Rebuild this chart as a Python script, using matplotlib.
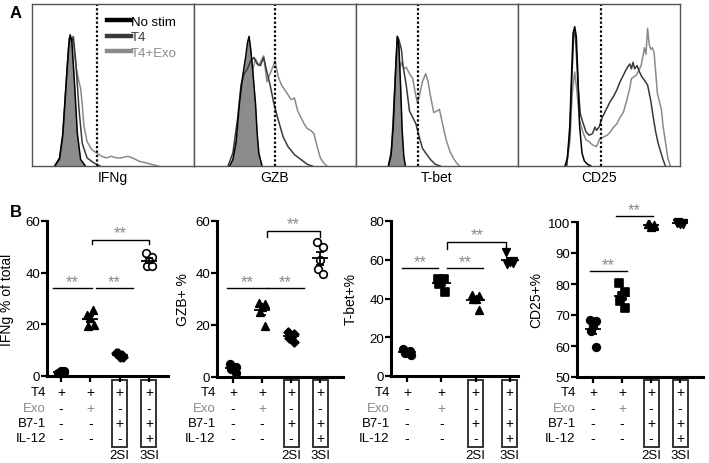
import numpy as np
import matplotlib
matplotlib.use('Agg')
import matplotlib.pyplot as plt
from matplotlib.lines import Line2D
from matplotlib.patches import Rectangle
from matplotlib import transforms

plt.rcParams['font.family'] = ['Liberation Sans', 'DejaVu Sans']

# ---------------- panel A: histograms (x, y in % of panel) ----------------
markers_a = ['IFNg', 'GZB', 'T-bet', 'CD25']
gates = [40, 50, 38, 51]

ifng_nostim_x = [14, 17, 19, 21, 22.5, 23.5, 24.5, 26, 28, 30, 33]
ifng_nostim_y = [0, 5, 20, 50, 72, 81, 78, 55, 20, 4, 0]
ifng_t4_x = [14, 17, 19, 21, 23, 24.5, 25.5, 27, 29, 31, 34, 38, 42]
ifng_t4_y = [0, 4, 18, 50, 79, 77, 80, 65, 35, 14, 5, 2, 0]
ifng_exo_x = [15, 18, 20, 22, 24, 25.5, 27, 29, 30, 31, 32, 34, 37, 40, 43, 46, 49, 52, 55, 59, 62, 66, 70, 74, 78]
ifng_exo_y = [0, 6, 25, 60, 78, 76, 62, 52, 48, 38, 25, 15, 10, 8, 6, 5, 6, 5, 5, 6, 5, 3, 2, 1, 0]

gzb_nostim_x = [22, 24, 26, 28, 30, 32, 33, 34, 35, 36, 37, 38, 39, 40, 42]
gzb_nostim_y = [0, 4, 15, 38, 55, 68, 76, 80, 72, 62, 50, 38, 20, 8, 0]
gzb_t4_x = [21, 24, 27, 29, 31, 33, 35, 37, 39, 41, 43, 45, 47, 49, 51, 53, 55, 58, 62, 66, 70, 73]
gzb_t4_y = [0, 8, 30, 50, 57, 60, 65, 67, 63, 62, 67, 58, 50, 40, 32, 25, 18, 12, 7, 4, 1, 0]
gzb_exo_x = [22, 25, 28, 31, 34, 36, 38, 40, 42, 43, 45, 47, 49, 50, 52, 54, 56, 58, 60, 62, 64, 66, 68, 70, 72, 74, 76, 78, 80, 82]
gzb_exo_y = [0, 5, 25, 40, 52, 58, 66, 62, 66, 68, 52, 57, 62, 65, 55, 50, 47, 44, 41, 42, 34, 30, 26, 23, 22, 20, 12, 5, 2, 0]

tbet_nostim_x = [20, 21.5, 23, 24.5, 25.5, 26.5, 27.5, 28.5, 29.5, 30.5]
tbet_nostim_y = [0, 6, 25, 60, 80, 74, 50, 22, 6, 0]
tbet_t4_x = [20, 22, 24, 25.5, 26.5, 28, 29, 31, 33, 35, 37, 39, 41, 43, 46, 49, 52]
tbet_t4_y = [0, 10, 50, 80, 78, 72, 62, 50, 34, 30, 26, 18, 11, 8, 4, 1, 0]
tbet_exo_x = [20, 22, 24, 25.5, 27, 28, 29.5, 31, 33, 35, 37, 38, 39.5, 41, 43, 44.5, 46, 48, 50, 51.5, 53, 54.5, 56, 58, 60, 62, 64]
tbet_exo_y = [0, 8, 35, 58, 60, 64, 60, 61, 57, 54, 43, 39, 45, 52, 57, 52, 43, 33, 34, 35, 28, 21, 15, 9, 5, 2, 0]

cd25_nostim_x = [29, 30.5, 32, 33, 34, 35, 36, 37, 38, 39.5, 41, 43, 45]
cd25_nostim_y = [0, 5, 25, 55, 82, 86, 80, 55, 25, 8, 3, 1, 0]
cd25_t4_x = [30, 32, 33.5, 34.5, 35.5, 37, 38.5, 40, 42, 44, 46, 47.5, 48.5, 50, 52, 55, 57, 59, 61, 63, 65, 67, 69, 70,
             71, 72, 73.5, 75, 76.5, 78, 80, 82, 83.5, 85, 86.5, 88, 89.5, 91]
cd25_t4_y = [0, 20, 60, 83, 80, 50, 32, 27, 21, 19, 20, 24, 22, 24, 30, 36, 40, 43, 47, 52, 56, 60, 63, 60,
             64, 60, 62, 58, 55, 53, 50, 40, 30, 21, 14, 9, 4, 0]
cd25_exo_x = [30, 32, 33.5, 35, 36.5, 38, 40, 42, 44, 46, 48.5, 50.5, 53, 55, 57, 59, 61, 63, 65, 67, 69, 70, 71.5, 73,
              75, 76, 77, 78, 79, 80, 81, 82, 83, 84, 85, 86, 87.5, 88.5, 89.5, 91, 92.5, 94]
cd25_exo_y = [0, 15, 45, 58, 45, 28, 21, 16, 15, 13, 12, 17, 18, 19, 21, 24, 26, 30, 33, 40, 48, 54, 55, 56,
              60, 62, 67, 73, 69, 85, 75, 72, 73, 70, 58, 45, 39, 35, 25, 15, 5, 0]

hists = [
    [(ifng_nostim_x, ifng_nostim_y), (ifng_t4_x, ifng_t4_y), (ifng_exo_x, ifng_exo_y)],
    [(gzb_nostim_x, gzb_nostim_y), (gzb_t4_x, gzb_t4_y), (gzb_exo_x, gzb_exo_y)],
    [(tbet_nostim_x, tbet_nostim_y), (tbet_t4_x, tbet_t4_y), (tbet_exo_x, tbet_exo_y)],
    [(cd25_nostim_x, cd25_nostim_y), (cd25_t4_x, cd25_t4_y), (cd25_exo_x, cd25_exo_y)],
]
filled = [True, True, True, False]

# ---------------- panel B: scatter data ----------------
ifng_vals = [[1.0, 1.5, 2.0, 1.2, 1.8],
             [23.5, 25.5, 22.5, 19.5, 19.8],
             [8.8, 8.0, 7.5, 9.0, 7.2],
             [47.5, 46.0, 44.5, 42.5, 42.5]]
gzb_vals = [[5.0, 4.0, 3.0, 3.0, 1.5],
            [28.5, 28.0, 27.0, 25.0, 19.5],
            [17.5, 16.5, 15.5, 15.0, 13.5],
            [52.0, 50.0, 45.0, 41.5, 39.5]]
tbet_vals = [[14.0, 13.0, 12.5, 12.0, 11.0],
             [50.0, 50.0, 48.5, 47.5, 43.5],
             [42.0, 41.5, 40.0, 39.5, 34.0],
             [64.0, 59.5, 59.0, 58.0, 58.5]]
cd25_vals = [[68.5, 68.0, 66.5, 65.0, 59.7],
             [80.3, 77.5, 76.0, 74.5, 72.3],
             [99.5, 99.0, 98.5, 99.2, 98.8],
             [99.8, 99.5, 99.3, 100.0, 99.6]]

ylabels = ['IFNg % of total', 'GZB+ %', 'T-bet+%', 'CD25+%']
row_names = ['T4', 'Exo', 'B7-1', 'IL-12']
table = [['+', '+', '+', '+'],
         ['-', '+', '-', '-'],
         ['-', '-', '+', '+'],
         ['-', '-', '-', '+']]
bottom_labels = ['', '', '2SI', '3SI']

W, H = 709, 464
fig = plt.figure(figsize=(W / 100, H / 100), dpi=100)


def px_axes(x0, ytop, w, h):
    return fig.add_axes([x0 / W, 1 - (ytop + h) / H, w / W, h / H])


# ---------------- draw panel A ----------------
col_nostim, col_t4, col_exo = 'black', '#3a3a3a', '#8a8a8a'
for i in range(4):
    ax = px_axes(32 + i * 162, 5, 162, 162)
    (x0, y0), (x1, y1), (x2, y2) = hists[i]
    if filled[i]:
        ax.fill_between(x0, y0, color='#8c8c8c', lw=0)
    ax.plot(x2, y2, color=col_exo, lw=1.1)
    ax.plot(x1, y1, color=col_t4, lw=1.1)
    ax.plot(x0, y0, color=col_nostim, lw=1.1)
    ax.axvline(gates[i], color='black', ls=(0, (1, 1)), lw=1.6)
    ax.set_xlim(0, 100)
    ax.set_ylim(0, 100)
    ax.set_xticks([])
    ax.set_yticks([])
    for s in ax.spines.values():
        s.set_color('#555555')
        s.set_linewidth(1.0)
    fig.text((32 + i * 162 + 81) / W, 1 - 178 / H, markers_a[i], ha='center', va='center', fontsize=10)
    if i == 0:
        handles = [Line2D([], [], color=col_nostim, lw=3.2),
                   Line2D([], [], color=col_t4, lw=3.2),
                   Line2D([], [], color=col_exo, lw=3.2)]
        ax.legend(handles, ['No stim', 'T4', 'T4+Exo'], loc='upper left',
                  bbox_to_anchor=(0.425, 0.97), frameon=False, fontsize=9.5,
                  handlelength=1.75, handletextpad=0.05, labelspacing=0.25, borderpad=0,
                  labelcolor=[col_nostim, col_t4, col_exo])

fig.text(10 / W, 1 - 13 / H, 'A', fontsize=12, fontweight='bold', ha='left', va='center')
fig.text(10 / W, 1 - 213 / H, 'B', fontsize=12, fontweight='bold', ha='left', va='center')

# ---------------- draw panel B ----------------
specs = [
    dict(box=(47, 222, 121, 155), xlim=(-0.48, 3.65), ylim=(0, 60), ticks=[0, 20, 40, 60], vals=ifng_vals,
         marks=['o', '^', 'D', 'o'], open_=[False, False, False, True], lab_dx=33,
         lines=[(-0.27, 1.06, 34.2), (1.19, 2.46, 34.2)], bracket=(1.06, 3.0, 52.7, 51.0)),
    dict(box=(217, 222, 126, 156), xlim=(-0.55, 3.79), ylim=(0, 60), ticks=[0, 20, 40, 60], vals=gzb_vals,
         marks=['o', '^', 'D', 'o'], open_=[False, False, False, True], lab_dx=27,
         lines=[(-0.2, 1.17, 34.2), (1.17, 2.45, 34.2)], bracket=(1.17, 3.0, 56.0, 54.0)),
    dict(box=(391, 222, 127, 155), xlim=(-0.47, 3.24), ylim=(0, 80), ticks=[0, 20, 40, 60, 80], vals=tbet_vals,
         marks=['o', 's', '^', 'v'], open_=[False] * 4, lab_dx=33,
         lines=[(-0.15, 0.91, 55.7), (1.17, 2.22, 55.7)], bracket=(1.17, 2.9, 69.1, 65.5)),
    dict(box=(577, 223, 126, 155), xlim=(-0.55, 3.79), ylim=(50, 100), ticks=[50, 60, 70, 80, 90, 100],
         vals=cd25_vals, marks=['o', 's', '^', 'v'], open_=[False] * 4, lab_dx=34,
         lines=[(-0.1, 1.17, 84.2), (0.8, 2.07, 101.9)], bracket=None),
]
jitter = [-0.12, 0.1, 0.0, -0.08, 0.12]
row_y = [393, 409, 424, 439]

for k, sp in enumerate(specs):
    ax = px_axes(*sp['box'])
    ax.set_xlim(*sp['xlim'])
    ax.set_ylim(*sp['ylim'])
    for s in ['top', 'right']:
        ax.spines[s].set_visible(False)
    for s in ['left', 'bottom']:
        ax.spines[s].set_linewidth(2.2)
    ax.set_yticks(sp['ticks'])
    ax.set_xticks(range(4))
    ax.set_xticklabels([])
    ax.tick_params(axis='both', direction='out', length=4, width=1.6, labelsize=9.5, pad=1)
    ax.set_ylabel(ylabels[k], fontsize=10)
    ax.yaxis.set_label_coords(-sp['lab_dx'] / sp['box'][2], 0.5)

    for c in range(4):
        v = np.array(sp['vals'][c])
        xs = c + np.array(jitter) * 0.9
        fc = 'white' if sp['open_'][c] else 'black'
        ms = 30 if sp['marks'][c] != 'D' else 20
        ax.scatter(xs, v, marker=sp['marks'][c], s=ms, facecolor=fc, edgecolor='black',
                   linewidth=1.2, zorder=3, clip_on=False)
        m = v.mean()
        sem = v.std(ddof=1) / np.sqrt(len(v))
        ax.hlines(m, c - 0.27, c + 0.27, color='black', lw=1.3, zorder=4, clip_on=False)
        ax.errorbar(c, m, yerr=sem, color='black', lw=1.3, capsize=3, capthick=1.3, zorder=4,
                    clip_on=False)

    for (xa, xb, yy) in sp['lines']:
        ax.plot([xa, xb], [yy, yy], color='black', lw=1, clip_on=False)
        ax.annotate('**', ((xa + xb) / 2, yy), xytext=(0, -1), textcoords='offset points',
                    ha='center', va='bottom', fontsize=12, color='#8a8a8a', annotation_clip=False)
    if sp['bracket'] is not None:
        xa, xb, yy, yd = sp['bracket']
        ax.plot([xa, xa, xb, xb], [yd, yy, yy, yd], color='black', lw=1, clip_on=False)
        ax.annotate('**', ((xa + xb) / 2, yy), xytext=(0, 0), textcoords='offset points',
                    ha='center', va='bottom', fontsize=12, color='#8a8a8a', annotation_clip=False)

    # condition table under the axis
    tr = transforms.blended_transform_factory(ax.transData, fig.transFigure)
    tr_lab = transforms.blended_transform_factory(ax.transAxes, fig.transFigure)
    for r in range(4):
        yf = 1 - row_y[r] / H
        lab_col = '#8a8a8a' if r == 1 else 'black'
        ax.text(-0.01, yf, row_names[r], transform=tr_lab, ha='right', va='center', fontsize=9.5,
                color=lab_col)
        for c in range(4):
            sym_col = '#8a8a8a' if (r == 1 and table[r][c] == '+') else 'black'
            ax.text(c, yf, table[r][c], transform=tr, ha='center', va='center', fontsize=10,
                    color=sym_col)
    for c in range(4):
        if bottom_labels[c]:
            ax.text(c, 1 - 456 / H, bottom_labels[c], transform=tr, ha='center', va='center', fontsize=9.5)
            half = 7.5 / (sp['box'][2] / (sp['xlim'][1] - sp['xlim'][0]))
            rect = Rectangle((c - half, 1 - 448 / H), 2 * half, (448 - 381) / H, transform=tr,
                             fill=False, edgecolor='#333333', lw=1.4, clip_on=False)
            ax.add_patch(rect)

plt.savefig('out.png', dpi=100)
